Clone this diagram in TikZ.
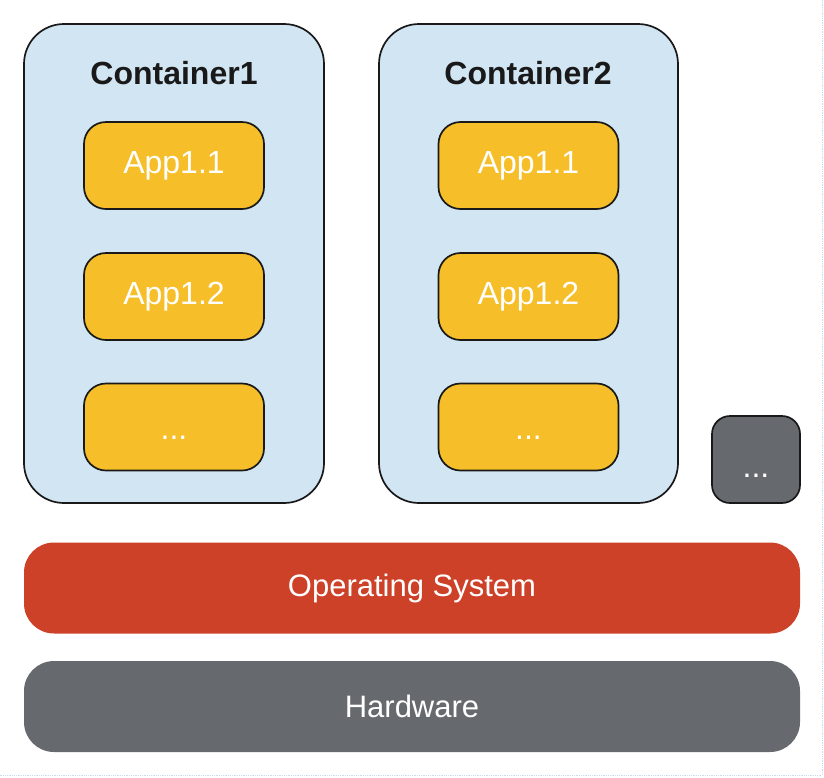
\documentclass[tikz,border=0pt]{standalone}
\usepackage{fontspec}
\setmainfont{Liberation Sans}
\definecolor{contfill}{HTML}{D1E5F3}
\definecolor{appfill}{HTML}{F6BE28}
\definecolor{osfill}{HTML}{CE4129}
\definecolor{hwfill}{HTML}{666A6E}
\definecolor{framecol}{HTML}{C8DDEE}
\newcommand{\lowdots}[1]{\smash{\raisebox{#1}{...}}}
\begin{document}
\begin{tikzpicture}[x=1pt,y=-1pt,
  container/.style={draw=black!90,line width=1.7pt,fill=contfill,rounded corners=40pt},
  app/.style={draw=black!90,line width=1.7pt,fill=appfill,rounded corners=22pt,minimum width=180pt,minimum height=87pt,text=white,font=\fontsize{32}{36}\selectfont},
  more/.style={draw=black!90,line width=1.7pt,fill=hwfill,rounded corners=18pt,minimum width=88pt,minimum height=87pt,text=white,font=\fontsize{32}{36}\selectfont},
  layer/.style={rounded corners=30pt,minimum width=776pt,minimum height=91pt,text=white,font=\fontsize{31}{35}\selectfont},
  title/.style={font=\bfseries\fontsize{32}{36}\selectfont,text=black!90}]
\useasboundingbox (0,0) rectangle (824,777);
\draw[framecol,densely dotted,line width=0.8pt] (822,0) -- (822,775) -- (0,775);
% containers
\draw[container] (24,24) rectangle (324,503);
\draw[container] (379,24) rectangle (678,503);
\node[title] (t1) at (174,73) {Container1};
\node[title] (t2) at (528,73) {Container2};
% apps
\node[app] (a11) at (174,165.5) {App1.1};
\node[app] (a12) at (174,296.5) {App1.2};
\node[app] (a13) at (174,427) {\lowdots{-12pt}};
\node[app] (a21) at (528.5,165.5) {App1.1};
\node[app] (a22) at (528.5,296.5) {App1.2};
\node[app] (a23) at (528.5,427) {\lowdots{-12pt}};
\node[more] (m) at (756,459.5) {\lowdots{-18pt}};
% layers
\node[layer,fill=osfill] (os) at (412,588) {Operating System};
\node[layer,fill=hwfill] (hw) at (412,706.5) {Hardware};
\end{tikzpicture}
\end{document}
